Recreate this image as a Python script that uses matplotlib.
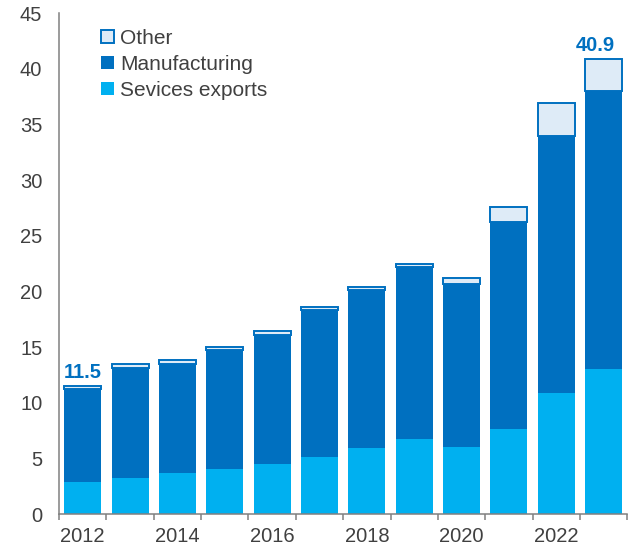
import numpy as np
import matplotlib.pyplot as plt
from matplotlib.patches import Patch

plt.rcParams['font.family'] = ['Liberation Sans', 'DejaVu Sans']

years = [2012, 2013, 2014, 2015, 2016, 2017, 2018, 2019, 2020, 2021, 2022, 2023]
services = [2.9, 3.25, 3.7, 4.05, 4.5, 5.1, 5.9, 6.7, 6.0, 7.6, 10.9, 13.0]
manufacturing = [8.3, 9.9, 9.8, 10.7, 11.6, 13.2, 14.2, 15.5, 14.7, 18.6, 23.1, 25.0]
other = [0.3, 0.3, 0.3, 0.3, 0.3, 0.3, 0.3, 0.3, 0.5, 1.4, 2.9, 2.9]
labelled_years = [2012, 2023]

c_serv = '#00B0F0'
c_manu = '#0070C0'
c_other = '#DEEBF7'
txt = '#404040'

x = np.arange(len(years))
serv = np.array(services)
manu = np.array(manufacturing)
oth = np.array(other)
total = serv + manu + oth

fig = plt.figure(figsize=(6.28, 5.48), dpi=100)
ax = fig.add_axes([0.094, 0.062, 0.905, 0.914])

w = 0.78
ax.bar(x, serv, w, color=c_serv, edgecolor='none')
ax.bar(x, manu, w, bottom=serv, color=c_manu, edgecolor='none')
ax.bar(x, oth, w, bottom=serv + manu, color=c_other, edgecolor=c_manu, linewidth=1.4)

# total labels on first and last year
for yr in labelled_years:
    i = years.index(yr)
    dx = -6 if i == len(years) - 1 else 0
    ax.annotate(f'{total[i]:.1f}', (x[i], total[i]), xytext=(dx, 3),
                textcoords='offset points', ha='center', va='bottom',
                fontsize=14.5, fontweight='bold', color=c_manu)

ax.set_xlim(-0.5, len(years) - 0.5)
ax.set_ylim(0, 45)
ax.set_yticks(np.arange(0, 46, 5))
ax.tick_params(axis='y', length=0, pad=12, labelsize=14.5, labelcolor=txt)

# year labels every two years, tick marks between bars
ax.set_xticks(x[::2])
ax.set_xticklabels([str(y) for y in years[::2]])
ax.set_xticks(np.arange(-0.5, len(years), 1), minor=True)
ax.tick_params(axis='x', which='major', length=0, pad=9, labelsize=14.5, labelcolor=txt)
ax.tick_params(axis='x', which='minor', length=4, width=1.1, color='#808080', direction='out')

for s in ['top', 'right']:
    ax.spines[s].set_visible(False)
for s in ['left', 'bottom']:
    ax.spines[s].set_color('#808080')
    ax.spines[s].set_linewidth(1.1)

handles = [
    Patch(facecolor=c_other, edgecolor=c_manu, linewidth=1.4, label='Other'),
    Patch(facecolor=c_manu, edgecolor='none', label='Manufacturing'),
    Patch(facecolor=c_serv, edgecolor='none', label='Sevices exports'),
]
leg = ax.legend(handles=handles, loc='upper left', bbox_to_anchor=(0.06, 0.985),
                frameon=False, fontsize=15, handlelength=0.6, handleheight=0.6,
                handletextpad=0.3, labelspacing=0.33, borderaxespad=0)
for t in leg.get_texts():
    t.set_color(txt)

fig.savefig('out.png', dpi=100)
